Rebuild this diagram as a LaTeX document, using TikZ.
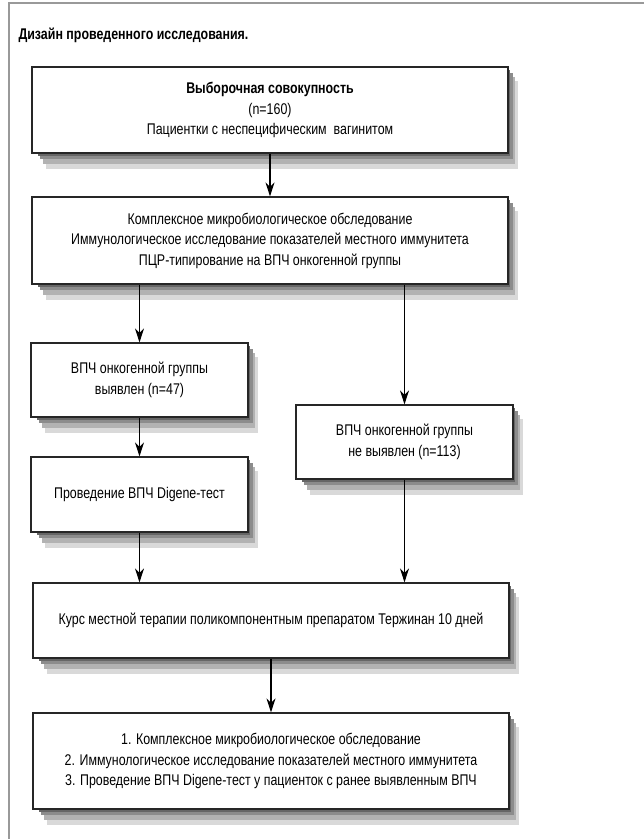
\documentclass[tikz,border=0pt]{standalone}
\usepackage{fontspec}
\setmainfont{Liberation Sans}[FakeStretch=0.8]
\usetikzlibrary{arrows.meta}

\begin{document}
\begin{tikzpicture}[x=1pt, y=-1pt,
  box/.style={draw=black!85, line width=1.2pt, fill=white, align=center, inner sep=0pt,
    font=\fontsize{15.5}{20.5}\selectfont},
  shadowbox/.style={fill=black!15, draw=none},
  arr/.style={-{Stealth[length=14pt, width=9pt]}, line width=1.2pt}]
\useasboundingbox (0,0) rectangle (644,839);
\draw[black!40, line width=2.5pt] (9,839) -- (9,3) -- (644,3);
% shadows under the boxes (centre x / centre y / width / height)
\foreach \cx/\cy/\w/\h in {270/110/476/86, 270/240.5/476/87, 139.5/380/217/74, 404.5/442/217/74,
    139.5/494.5/217/75, 271/620.5/476/75, 271/761/476/96}{
  \path[shadowbox] (\cx-\w/2+14,\cy-\h/2+14) rectangle (\cx+\w/2+10,\cy+\h/2+16);
  \path[shadowbox, fill=black!30] (\cx-\w/2+11,\cy-\h/2+10) rectangle (\cx+\w/2+7,\cy+\h/2+11);
  \path[shadowbox, fill=black!45] (\cx-\w/2+8,\cy-\h/2+6) rectangle (\cx+\w/2+4.5,\cy+\h/2+6);
  \path[shadowbox, fill=black!60] (\cx-\w/2+6,\cy-\h/2+3) rectangle (\cx+\w/2+2,\cy+\h/2+2.5);
}
\node[anchor=west, font=\fontsize{15.5}{17}\selectfont\bfseries] (title) at (15,35) {Дизайн проведенного исследования.};
% boxes
\node[box, minimum width=476, minimum height=86] (sample) at (270,110)
  {\textbf{Выборочная совокупность}\\(n=160)\\Пациентки с неспецифическим\ \ вагинитом};
\node[box, minimum width=476, minimum height=87] (exam) at (270,240.5)
  {Комплексное микробиологическое обследование\\Иммунологическое исследование показателей местного иммунитета\\ПЦР-типирование на ВПЧ онкогенной группы};
\node[box, minimum width=217, minimum height=74] (pos) at (139.5,380)
  {ВПЧ онкогенной группы\\выявлен (n=47)};
\node[box, minimum width=217, minimum height=74] (neg) at (404.5,442)
  {ВПЧ онкогенной группы\\не выявлен (n=113)};
\node[box, minimum width=217, minimum height=75] (dig) at (139.5,494.5)
  {Проведение ВПЧ Digene-тест};
\node[box, minimum width=476, minimum height=75] (ther) at (271,620.5)
  {Курс местной терапии поликомпонентным препаратом Тержинан 10 дней};
\node[box, minimum width=476, minimum height=96] (ctrl) at (271,761)
  {1. Комплексное микробиологическое обследование\\2. Иммунологическое исследование показателей местного иммунитета\\3. Проведение ВПЧ Digene-тест у пациенток с ранее выявленным ВПЧ};
% arrows
\draw[arr] (sample.south) -- (exam.north);
\draw[arr] (exam.south -| pos) -- (pos.north);
\draw[arr] (exam.south -| neg) -- (neg.north);
\draw[arr] (pos.south) -- (dig.north);
\draw[arr] (dig.south) -- (dig |- ther.north);
\draw[arr] (neg.south) -- (neg |- ther.north);
\draw[arr] (ther.south) -- (ctrl.north);
\end{tikzpicture}
\end{document}
